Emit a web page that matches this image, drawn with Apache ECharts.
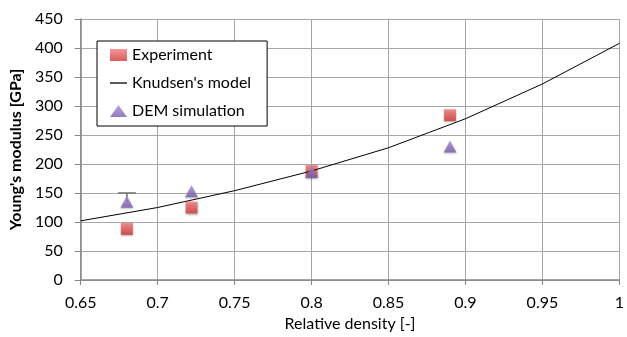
<!DOCTYPE html>
<html>
<head>
    <meta charset="utf-8">
    <title>Young's modulus vs relative density</title>
    <script src="https://cdn.jsdelivr.net/npm/echarts@6/dist/echarts.min.js"></script>
    <style>
        html, body { margin: 0; padding: 0; background: #fff; }
        #chart { width: 627px; height: 337px; }
    </style>
</head>
<body>
<div id="chart"></div>
<script>
    // data
    var expDensity = [0.68, 0.722, 0.8, 0.89];
    var expModulus = [88, 125, 188, 284];

    var modelDensity = [0.65, 0.7, 0.75, 0.8, 0.85, 0.9, 0.95, 1.0];
    var modelModulus = [102, 125, 154, 188, 228, 278, 338, 408];

    var demDensity = [0.68, 0.722, 0.8, 0.89];
    var demModulus = [135, 153, 186, 230];

    // the one visible error bar (on the DEM point at 0.68)
    var errDensity = [0.68];
    var errLow = [135];
    var errHigh = [150];

    var font = 'Lato, "Noto Sans", sans-serif';

    var myChart = echarts.init(document.getElementById('chart'));

    var option = {
        animation: false,
        grid: { left: 79, right: 4, top: 19, bottom: 54 },
        legend: {
            orient: 'vertical',
            left: 97,
            top: 41,
            width: 160,
            padding: [5, 16, 6, 13],
            itemGap: 10,
            itemWidth: 17,
            itemHeight: 12,
            symbolKeepAspect: true,
            borderColor: '#000',
            borderWidth: 1,
            backgroundColor: '#fff',
            textStyle: { fontFamily: font, fontSize: 16, color: '#000', lineHeight: 18 },
            data: [
                { name: 'Experiment', icon: 'rect' },
                { name: "Knudsen's model", icon: 'path://M0,0 L17,0 L17,1.3 L0,1.3 Z', itemStyle: { color: '#000' } },
                { name: 'DEM simulation', icon: 'triangle' }
            ]
        },
        xAxis: {
            type: 'value',
            min: 0.65,
            max: 1,
            interval: 0.05,
            name: 'Relative density [-]',
            nameLocation: 'middle',
            nameGap: 36,
            nameTextStyle: { fontFamily: font, fontSize: 16, color: '#000' },
            axisLine: { lineStyle: { color: '#868686', width: 1.5 } },
            axisTick: { show: true, length: 5, lineStyle: { color: '#868686' } },
            axisLabel: {
                fontFamily: font, fontSize: 16, color: '#000', margin: 15,
                formatter: function (v) { return String(+v.toFixed(2)); }
            },
            splitLine: { show: true, lineStyle: { color: '#a6a6a6' } }
        },
        yAxis: {
            type: 'value',
            min: 0,
            max: 450,
            interval: 50,
            name: "Young's modulus [GPa]",
            nameLocation: 'middle',
            nameGap: 52,
            nameTextStyle: { fontFamily: font, fontSize: 16, fontWeight: 'bold', color: '#000' },
            axisLine: { show: true, lineStyle: { color: '#868686', width: 1.5 } },
            axisTick: { show: true, length: 6, lineStyle: { color: '#868686' } },
            axisLabel: { fontFamily: font, fontSize: 16, color: '#000', margin: 18 },
            splitLine: { show: true, lineStyle: { color: '#a6a6a6' } }
        },
        series: [
            {
                name: 'error',
                type: 'custom',
                z: 1,
                data: errDensity.map(function (d, i) { return [d, errLow[i], errHigh[i]]; }),
                renderItem: function (params, api) {
                    var lo = api.coord([api.value(0), api.value(1)]);
                    var hi = api.coord([api.value(0), api.value(2)]);
                    var st = { stroke: '#6f6f6f', lineWidth: 1.5 };
                    return {
                        type: 'group',
                        children: [
                            { type: 'line', shape: { x1: lo[0], y1: lo[1], x2: hi[0], y2: hi[1] }, style: st },
                            { type: 'line', shape: { x1: hi[0] - 9, y1: hi[1], x2: hi[0] + 9, y2: hi[1] }, style: st }
                        ]
                    };
                }
            },
            {
                name: 'Experiment',
                type: 'scatter',
                z: 2,
                symbol: 'rect',
                symbolSize: 12,
                itemStyle: {
                    color: new echarts.graphic.LinearGradient(0, 0, 0, 1, [
                        { offset: 0, color: '#f07c7c' },
                        { offset: 1, color: '#d23434' }
                    ]),
                    shadowBlur: 2,
                    shadowOffsetY: 1,
                    shadowColor: 'rgba(0,0,0,0.35)'
                },
                data: expDensity.map(function (d, i) { return [d, expModulus[i]]; })
            },
            {
                name: "Knudsen's model",
                type: 'line',
                z: 3,
                symbol: 'none',
                smooth: false,
                lineStyle: { color: '#000', width: 1 },
                itemStyle: { color: '#000' },
                data: modelDensity.map(function (d, i) { return [d, modelModulus[i]]; })
            },
            {
                name: 'DEM simulation',
                type: 'scatter',
                z: 4,
                symbol: 'triangle',
                symbolSize: [13, 12],
                itemStyle: {
                    color: new echarts.graphic.LinearGradient(0, 0, 0, 1, [
                        { offset: 0, color: '#a98fd3' },
                        { offset: 1, color: '#7b5cae' }
                    ]),
                    shadowBlur: 2,
                    shadowOffsetY: 1,
                    shadowColor: 'rgba(0,0,0,0.35)'
                },
                data: demDensity.map(function (d, i) { return [d, demModulus[i]]; })
            }
        ]
    };

    myChart.setOption(option);
</script>
</body>
</html>
